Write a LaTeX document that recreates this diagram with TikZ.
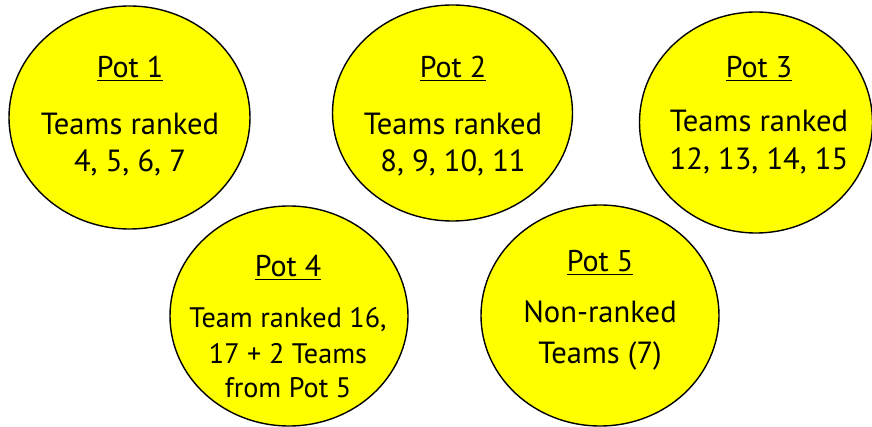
\documentclass[tikz,border=0pt]{standalone}
\usepackage{fontspec}
\setmainfont{PT Sans}
\usetikzlibrary{shapes.geometric}
\definecolor{potyellow}{RGB}{255,255,0}
\begin{document}
\begin{tikzpicture}[x=1pt,y=-1pt,
  pot/.style={draw=black, line width=1.4pt, fill=potyellow, ellipse, inner sep=0pt},
  ttl/.style={anchor=base, inner sep=0pt, font=\fontsize{30}{36}\selectfont},
  body/.style={anchor=base, inner sep=0pt, font=\fontsize{30.6}{36}\selectfont},
  smallbody/.style={anchor=base, inner sep=0pt, font=\fontsize{28.2}{32}\selectfont}]
\useasboundingbox (0,0) rectangle (872,427);
\clip (0,0) rectangle (872,427);
% ellipses
\node[pot, minimum width=241pt, minimum height=223pt] (e1) at (129.5,117.5) {};
\node[pot, minimum width=240pt, minimum height=216pt] (e2) at (452.5,113) {};
\node[pot, minimum width=233pt, minimum height=221pt] (e3) at (756,122.5) {};
\node[pot, minimum width=238pt, minimum height=220pt] (e4) at (289,316) {};
\node[pot, minimum width=238pt, minimum height=221pt] (e5) at (600,315.5) {};
% Pot 1
\node[ttl] (t1) at (130,78) {\underline{Pot 1}};
\node[body] (b1a) at (130,135) {Teams ranked};
\node[body] (b1b) at (130,172) {4, 5, 6, 7};
% Pot 2
\node[ttl] (t2) at (453,78) {\underline{Pot 2}};
\node[body] (b2a) at (453,135) {Teams ranked};
\node[body] (b2b) at (453,172) {8, 9, 10, 11};
% Pot 3
\node[ttl] (t3) at (759,78) {\underline{Pot 3}};
\node[body] (b3a) at (759,132) {Teams ranked};
\node[body] (b3b) at (759,170) {12, 13, 14, 15};
% Pot 4
\node[ttl] (t4) at (288,277) {\underline{Pot 4}};
\node[smallbody] (b4a) at (288,327) {Team ranked 16,};
\node[smallbody] (b4b) at (288,363) {17 + 2 Teams};
\node[smallbody] (b4c) at (288,397) {from Pot 5};
% Pot 5
\node[ttl] (t5) at (600,272) {\underline{Pot 5}};
\node[body] (b5a) at (600,323) {Non-ranked};
\node[body] (b5b) at (600,363) {Teams (7)};
\end{tikzpicture}
\end{document}
